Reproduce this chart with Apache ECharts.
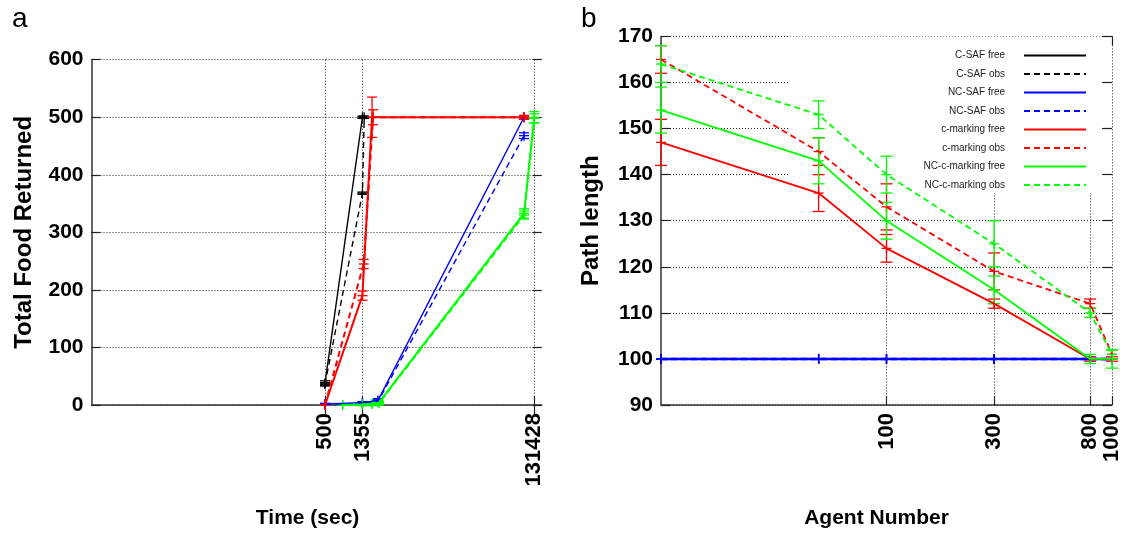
<!DOCTYPE html>
<html>
<head>
<meta charset="utf-8">
<script src="https://cdn.jsdelivr.net/npm/echarts@6/dist/echarts.min.js"></script>
<style>
html,body{margin:0;padding:0;background:#fff;}
#chart{width:1123px;height:534px;}
</style>
</head>
<body>
<div id="chart"></div>
<script>
// ---------- DATA ----------
const seriesNames = ['C-SAF free', 'C-SAF obs', 'NC-SAF free', 'NC-SAF obs',
  'c-marking free', 'c-marking obs', 'NC-c-marking free', 'NC-c-marking obs'];

// Panel a: Total food returned vs time (sec)
const timeTicks = [500, 1355, 131428];
const foodTicksMax = 600;
const timeCsafFree = [500, 1355];
const foodCsafFree = [38, 500];
const errCsafFree = [4, 2];
const timeCsafObs = [500, 1355, 1420];
const foodCsafObs = [36, 368, 500];
const errCsafObs = [3, 2, 2];
const timeNcsafFree = [500, 1355, 2050, 100000];
const foodNcsafFree = [2, 4, 8, 500];
const errNcsafFree = [1, 2, 3, 3];
const timeNcsafObs = [500, 1355, 2050, 100000];
const foodNcsafObs = [1, 3, 6, 468];
const errNcsafObs = [1, 2, 3, 5];
const timeCmFree = [500, 1355, 1750, 100000];
const foodCmFree = [0, 190, 500, 500];
const errCmFree = [0, 8, 35, 3];
const timeCmObs = [500, 1400, 1800, 100000];
const foodCmObs = [0, 245, 500, 500];
const errCmObs = [0, 8, 13, 3];
const timeNcmFree = [800, 1355, 1750, 2100, 100000, 131428];
const foodNcmFree = [0, 1, 2, 4, 333, 500];
const errNcmFree = [0, 2, 3, 3, 8, 10];
const timeNcmObs = [800, 1355, 1750, 2100, 100000, 131428];
const foodNcmObs = [0, 1, 2, 3, 330, 498];
const errNcmObs = [0, 2, 3, 3, 7, 8];

// Panel b: Path length vs agent number
const agentTicks = [100, 300, 800, 1000];
const agents = [10, 50, 100, 300, 800, 1000];
const pathCsafFree = [100, 100, 100, 100, 100, 100];
const pathCsafObs = [100, 100, 100, 100, 100, 100];
const pathNcsafFree = [100, 100, 100, 100, 100, 100];
const pathNcsafObs = [100, 100, 100, 100, 100, 100];
const pathCmFree = [147, 136, 124, 112, 100, 100];
const errPathCmFree = [5, 4, 3, 1, 0.5, 0.5];
const pathCmObs = [165, 145, 133, 119, 112, 101];
const errPathCmObs = [3, 3, 5, 4, 1, 1];
const pathNcmFree = [154, 143, 130, 115, 100, 100];
const errPathNcmFree = [5, 5, 4, 3, 1, 2];
const pathNcmObs = [164, 153, 140, 125, 110, 101];
const errPathNcmObs = [4, 3, 4, 5, 1, 1];
const zeroErr = [0, 0, 0, 0, 0, 0];

// ---------- STYLE ----------
const colors = ['#000000', '#000000', '#0000ff', '#0000ff', '#ff0000', '#ff0000', '#00ff00', '#00ff00'];
const dashed = [false, true, false, true, false, true, false, true];
const leftWidths = [1.4, 1.4, 1.4, 1.4, 2, 2, 2, 2];
const rightWidths = [1.2, 1.2, 2.6, 2.6, 1.8, 1.8, 1.8, 1.8];
const FONT = 'Liberation Sans';
const gridColor = '#222';

const leftSets = [
  [timeCsafFree, foodCsafFree, errCsafFree],
  [timeCsafObs, foodCsafObs, errCsafObs],
  [timeNcsafFree, foodNcsafFree, errNcsafFree],
  [timeNcsafObs, foodNcsafObs, errNcsafObs],
  [timeCmFree, foodCmFree, errCmFree],
  [timeCmObs, foodCmObs, errCmObs],
  [timeNcmFree, foodNcmFree, errNcmFree],
  [timeNcmObs, foodNcmObs, errNcmObs]
];
const rightSets = [
  [agents, pathCsafFree, zeroErr],
  [agents, pathCsafObs, zeroErr],
  [agents, pathNcsafFree, zeroErr],
  [agents, pathNcsafObs, zeroErr],
  [agents, pathCmFree, errPathCmFree],
  [agents, pathCmObs, errPathCmObs],
  [agents, pathNcmFree, errPathNcmFree],
  [agents, pathNcmObs, errPathNcmObs]
];

function errRender(color, capW, plus, lw) {
  return function (params, api) {
    const x = api.value(0), y = api.value(1), lo = api.value(2), hi = api.value(3);
    const p = api.coord([x, y]);
    const pl = api.coord([x, lo]);
    const ph = api.coord([x, hi]);
    const style = { stroke: color, lineWidth: lw, fill: null };
    const ch = [];
    if (hi > lo) {
      ch.push({ type: 'line', shape: { x1: p[0], y1: pl[1], x2: p[0], y2: ph[1] }, style });
      ch.push({ type: 'line', shape: { x1: p[0] - capW / 2, y1: pl[1], x2: p[0] + capW / 2, y2: pl[1] }, style });
      ch.push({ type: 'line', shape: { x1: p[0] - capW / 2, y1: ph[1], x2: p[0] + capW / 2, y2: ph[1] }, style });
    }
    ch.push({ type: 'line', shape: { x1: p[0] - plus, y1: p[1], x2: p[0] + plus, y2: p[1] }, style });
    ch.push({ type: 'line', shape: { x1: p[0], y1: p[1] - plus, x2: p[0], y2: p[1] + plus }, style });
    return { type: 'group', children: ch };
  };
}

const series = [];
function addPanel(sets, xi, yi, widths, capW, plus) {
  sets.forEach((s, i) => {
    const [xs, ys, es] = s;
    series.push({
      type: 'line', name: seriesNames[i], xAxisIndex: xi, yAxisIndex: yi,
      data: xs.map((x, k) => [x, ys[k]]),
      symbol: 'none', clip: false,
      lineStyle: { color: colors[i], width: widths[i], type: dashed[i] ? [6, 4] : 'solid' },
      itemStyle: { color: colors[i] }
    });
    series.push({
      type: 'custom', name: seriesNames[i] + ' err', xAxisIndex: xi, yAxisIndex: yi,
      data: xs.map((x, k) => [x, ys[k], ys[k] - es[k], ys[k] + es[k]]),
      encode: { x: 0, y: [1, 2, 3] },
      renderItem: errRender(colors[i], capW, plus, 1.3)
    });
  });
}
addPanel(leftSets, 0, 0, leftWidths, 10, 5);
addPanel(rightSets, 2, 2, rightWidths, 12, 5);

const dotted = { color: gridColor, width: 1, type: [1, 2] };
const axisLineStyle = { color: '#333', width: 1.5 };
const tickLabelFmt = v => String(Math.round(v));

function xAxes(grid, min, max, ticks) {
  return [{
    type: 'log', logBase: 10, gridIndex: grid, min, max,
    axisLine: { show: true, onZero: false, lineStyle: axisLineStyle },
    axisTick: { show: true, inside: true, length: 9, customValues: ticks, lineStyle: { color: '#222', width: 1.2 } },
    axisLabel: { customValues: ticks, rotate: 90, margin: 8, formatter: tickLabelFmt,
      fontFamily: FONT, fontWeight: 'bold', fontSize: 22, color: '#000' },
    splitLine: { show: true, lineStyle: dotted },
    minorTick: { show: false }, minorSplitLine: { show: false }
  }, {
    type: 'log', logBase: 10, gridIndex: grid, min, max, position: 'top',
    axisLine: { show: false },
    axisTick: { show: true, inside: true, length: 9, customValues: ticks, lineStyle: { color: '#222', width: 1.2 } },
    axisLabel: { show: false },
    splitLine: { show: false }
  }];
}
function yAxes(grid, min, max, interval) {
  return [{
    type: 'value', gridIndex: grid, min, max, interval,
    axisLine: { show: true, lineStyle: axisLineStyle },
    axisTick: { show: true, inside: true, length: 9, lineStyle: { color: '#222', width: 1.2 } },
    axisLabel: { margin: 8, fontFamily: FONT, fontWeight: 'bold', fontSize: 21, color: '#000' },
    splitLine: { show: true, lineStyle: dotted }
  }, {
    type: 'value', gridIndex: grid, min, max, interval, position: 'right',
    axisLine: { show: false },
    axisTick: { show: true, inside: true, length: 9, lineStyle: { color: '#222', width: 1.2 } },
    axisLabel: { show: false },
    splitLine: { show: false }
  }];
}

const xa0 = xAxes(0, 1, 160000, timeTicks);
xa0[0].name = 'Time (sec)';
xa0[0].nameLocation = 'middle';
xa0[0].nameGap = 103;
xa0[0].nameTextStyle = { fontFamily: FONT, fontWeight: 'bold', fontSize: 21, color: '#000', padding: [0, 18, 0, 0] };
const xa1 = xAxes(1, 10, 1000, agentTicks);
xa1[0].name = 'Agent Number';
xa1[0].nameLocation = 'middle';
xa1[0].nameGap = 103;
xa1[0].nameTextStyle = { fontFamily: FONT, fontWeight: 'bold', fontSize: 21, color: '#000', padding: [0, 20, 0, 0] };

const ya0 = yAxes(0, 0, foodTicksMax, 100);
ya0[0].name = 'Total Food Returned';
ya0[0].nameLocation = 'middle';
ya0[0].nameGap = 55;
ya0[0].nameTextStyle = { fontFamily: FONT, fontWeight: 'bold', fontSize: 24, color: '#000' };
const ya1 = yAxes(1, 90, 170, 10);
ya1[0].name = 'Path length';
ya1[0].nameLocation = 'middle';
ya1[0].nameGap = 58;
ya1[0].nameTextStyle = { fontFamily: FONT, fontWeight: 'bold', fontSize: 24, color: '#000' };

const chart = echarts.init(document.getElementById('chart'), null, { renderer: 'canvas' });
chart.setOption({
  animation: false,
  backgroundColor: '#fff',
  grid: [
    { left: 91.5, right: 581.3, top: 59.7, bottom: 128.7 },
    { left: 661, right: 10.7, top: 36.4, bottom: 128 }
  ],
  xAxis: [...xa0, ...xa1],
  yAxis: [...ya0, ...ya1],
  legend: {
    data: seriesNames, orient: 'vertical', align: 'right',
    right: 23, top: 36.5, z: 1,
    backgroundColor: '#fff',
    padding: [14, 13, 3, 134],
    itemWidth: 62, itemHeight: 10, itemGap: 8.5,
    selectedMode: false,
    itemStyle: { opacity: 0 },
    lineStyle: { width: 2 },
    formatter: n => n + '\u00a0\u00a0\u00a0\u00a0\u00a0',
    textStyle: { fontFamily: FONT, fontSize: 10, color: '#222' }
  },
  graphic: [
    { type: 'text', left: 12, top: 5, style: { text: 'a', font: '28px "Liberation Sans"', fill: '#000' } },
    { type: 'text', left: 581, top: 5, style: { text: 'b', font: '28px "Liberation Sans"', fill: '#000' } }
  ],
  series
});
</script>
</body>
</html>
